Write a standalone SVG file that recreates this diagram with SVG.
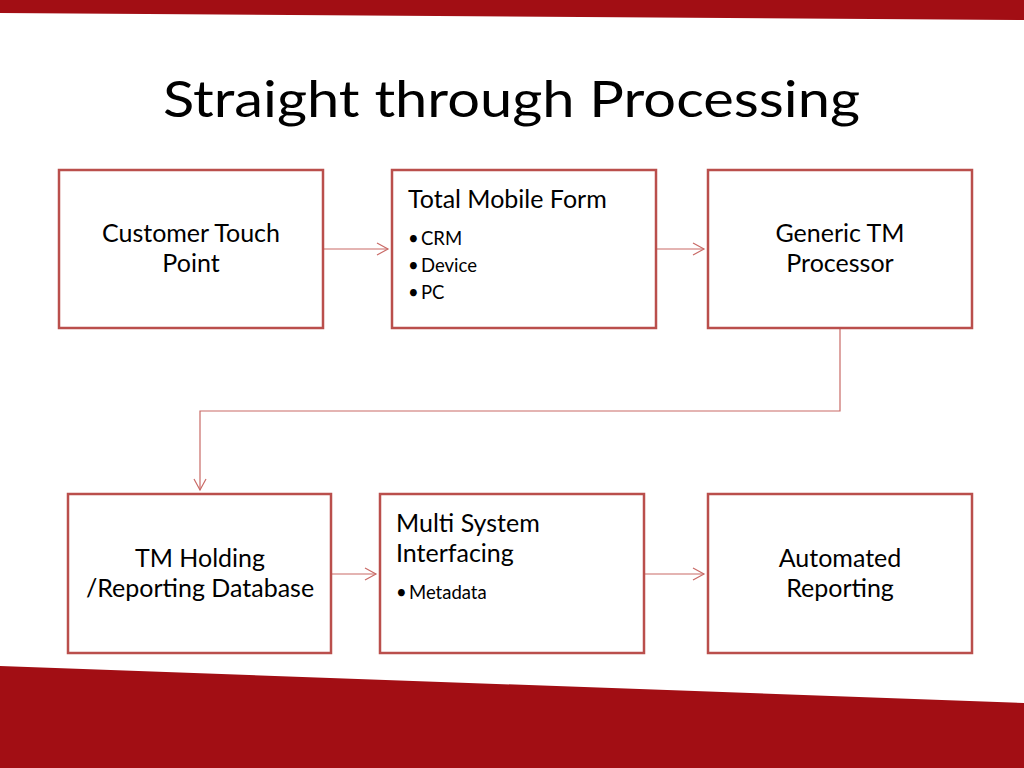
<svg xmlns="http://www.w3.org/2000/svg" width="1024" height="768" viewBox="0 0 1024 768">
<style>
.box{fill:#fff;stroke:#BA4F4C;stroke-width:2.5}
.t{font-family:Lato,"Open Sans","Liberation Sans",sans-serif;font-size:25px;fill:#000}
.b{font-family:Lato,"Open Sans","Liberation Sans",sans-serif;font-size:18.5px;fill:#000}
.c{text-anchor:middle}
.conn{fill:none;stroke:#C96A66;stroke-width:1.2}
</style>
<defs>
<marker id="ah" markerWidth="14" markerHeight="14" refX="12" refY="7" orient="auto" markerUnits="userSpaceOnUse">
<path d="M1,1 L12,7 L1,13" fill="none" stroke="#C96A66" stroke-width="1.2"/>
</marker>
</defs>
<rect width="1024" height="768" fill="#fff"/>
<polygon points="0,0 1024,0 1024,20 0,13" fill="#A20E14"/>
<polygon points="0,666 1024,703 1024,768 0,768" fill="#A20E14"/>
<text x="163" y="117" font-family="Lato,'Open Sans','Liberation Sans',sans-serif" font-size="50" fill="#000" textLength="697" lengthAdjust="spacingAndGlyphs">Straight through Processing</text>
<g id="connectors">
<line class="conn" x1="324" y1="249" x2="388" y2="249" marker-end="url(#ah)"/>
<line class="conn" x1="657" y1="249" x2="704" y2="249" marker-end="url(#ah)"/>
<polyline class="conn" points="840,329 840,411 200,411 200,490" marker-end="url(#ah)"/>
<line class="conn" x1="332" y1="574" x2="376" y2="574" marker-end="url(#ah)"/>
<line class="conn" x1="645" y1="574" x2="704" y2="574" marker-end="url(#ah)"/>
</g>
<g id="n1"><rect class="box" x="59" y="170" width="264" height="158"/>
<text class="t c" x="191" y="242">Customer Touch</text><text class="t c" x="191" y="272">Point</text></g>
<g id="n2"><rect class="box" x="392" y="170" width="264" height="158"/>
<text class="t" x="408" y="208">Total Mobile Form</text>
<text class="b" x="408" y="245">•</text><text class="b" x="421" y="245">CRM</text>
<text class="b" x="408" y="272">•</text><text class="b" x="421" y="272">Device</text>
<text class="b" x="408" y="299">•</text><text class="b" x="421" y="299">PC</text></g>
<g id="n3"><rect class="box" x="708" y="170" width="264" height="158"/>
<text class="t c" x="840" y="242">Generic TM</text><text class="t c" x="840" y="272">Processor</text></g>
<g id="n4"><rect class="box" x="68" y="494" width="263" height="159"/>
<text class="t c" x="200" y="567">TM Holding</text><text class="t c" x="200" y="597">/Reporting Database</text></g>
<g id="n5"><rect class="box" x="380" y="494" width="264" height="159"/>
<text class="t" x="396" y="532">Multi System</text><text class="t" x="396" y="562">Interfacing</text>
<text class="b" x="396" y="599">•</text><text class="b" x="409" y="599">Metadata</text></g>
<g id="n6"><rect class="box" x="708" y="494" width="264" height="159"/>
<text class="t c" x="840" y="567">Automated</text><text class="t c" x="840" y="597">Reporting</text></g>
</svg>
